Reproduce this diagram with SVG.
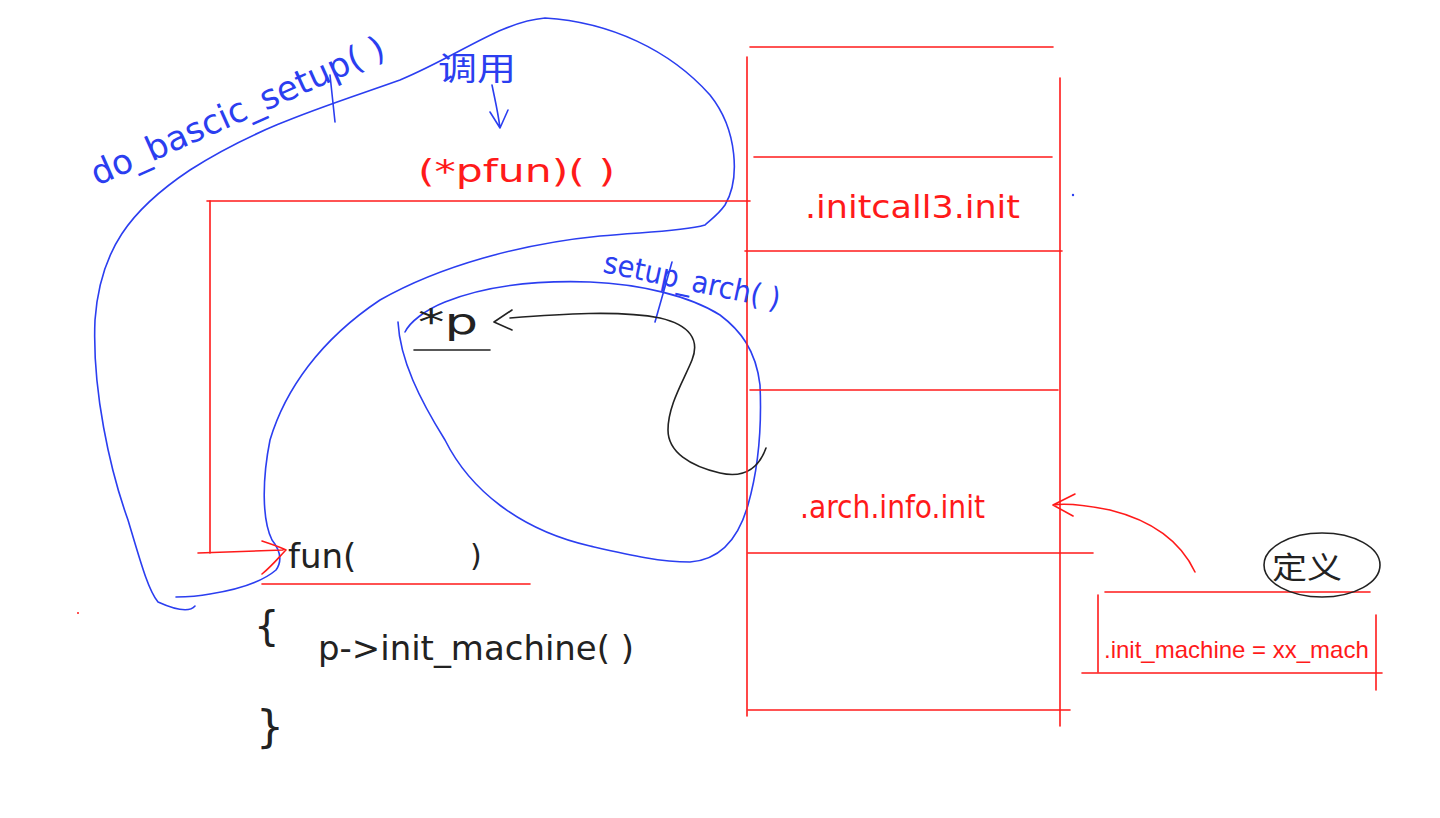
<svg xmlns="http://www.w3.org/2000/svg" width="1440" height="818" viewBox="0 0 1440 818">
<style>
.r{stroke:#ff1a1a;stroke-width:1.6;fill:none;stroke-linecap:round;stroke-linejoin:round}
.b{stroke:#2b3ef0;stroke-width:1.6;fill:none;stroke-linecap:round;stroke-linejoin:round}
.k{stroke:#222;stroke-width:1.6;fill:none;stroke-linecap:round;stroke-linejoin:round}
text{font-family:"DejaVu Sans","Noto Sans CJK SC",sans-serif;}
.tr{fill:#ff1a1a}
.tb{fill:#2b3ef0}
.tk{fill:#222}
</style>
<rect width="1440" height="818" fill="#fff"/>
<g id="connectors">
  <path class="b" d="M195,606 C190,612 178,611 158,602 C148,590 140,560 128,520 C110,470 92,390 95,320 C100,250 130,210 190,170 C260,125 330,105 400,80 C460,55 500,22 545,18 C610,22 670,50 710,95 C738,130 740,180 725,205 C718,215 710,220 705,225 C680,232 640,232 600,236 C520,244 440,266 380,300 C320,340 285,390 270,440 C262,480 262,520 272,540 C280,550 283,560 276,570 C262,582 235,590 210,594 C195,597 183,597 176,597"/>
  <path class="b" d="M398,322 C400,360 420,400 445,440 C470,490 520,530 590,546 C630,555 660,562 690,562 C720,560 738,540 748,505 C758,470 762,430 760,385 C756,350 740,330 720,315 C690,296 640,284 590,282 C530,280 480,288 445,302 C425,310 410,322 405,332"/>
  <path class="b" d="M655,322 L672,262"/>
  <path class="b" d="M492,85 C495,100 498,112 500,128 M490,112 L500,128 L508,110"/>
  <path class="k" d="M510,318 C560,314 620,310 660,318 C690,325 700,340 692,360 C684,380 668,405 668,430 C668,452 690,466 720,473 C742,478 758,470 766,448"/>
  <path class="k" d="M512,310 L494,322 L512,330"/>
  <path class="r" d="M1195,572 C1180,540 1150,520 1110,510 C1085,505 1065,503 1053,505 M1075,494 L1053,505 L1073,516"/>
  <path class="r" d="M198,553 L283,550 M262,541 C274,545 282,548 286,550 C280,556 272,566 262,574"/>
</g>
<g id="memory-table">
  <path class="r" d="M747,57 L747,716"/>
  <path class="r" d="M1060,78 L1060,726"/>
  <path class="r" d="M750,47 L1053,47"/>
  <path class="r" d="M754,157 L1052,157"/>
  <path class="r" d="M745,251 L1062,251"/>
  <path class="r" d="M750,390 L1058,390"/>
  <path class="r" d="M748,553 L1093,553"/>
  <path class="r" d="M748,710 L1070,710"/>
  <text class="tr" x="805" y="218" font-size="32" textLength="215" lengthAdjust="spacingAndGlyphs">.initcall3.init</text>
  <text class="tr" x="800" y="518" font-size="32" textLength="185" lengthAdjust="spacingAndGlyphs">.arch.info.init</text>
</g>
<g id="pfun-frame">
  <path class="r" d="M207,201 L750,201"/>
  <path class="r" d="M210,201 L210,553"/>
  <path class="r" d="M262,584 L530,584"/>
  <text class="tr" x="418" y="182" font-size="32" textLength="197" lengthAdjust="spacingAndGlyphs">(*pfun)(  )</text>
</g>
<g id="do-basic-setup">
  <text class="tb" transform="translate(97,186) rotate(-24)" font-size="34" textLength="318" lengthAdjust="spacingAndGlyphs">do_bascic_setup( )</text>
  <path class="b" d="M330,75 L335,122"/>
  <text class="tb" x="438" y="80" font-size="32" textLength="78" lengthAdjust="spacingAndGlyphs">调用</text>
</g>
<g id="setup-arch">
  <text class="tb" transform="translate(602,272) rotate(12)" font-size="30" textLength="180" lengthAdjust="spacingAndGlyphs">setup_arch( )</text>
</g>
<g id="p-pointer">
  <text class="tk" x="418" y="334" font-size="36" textLength="60" lengthAdjust="spacingAndGlyphs">*p</text>
  <path class="k" d="M414,350 L490,350"/>
</g>
<g id="fun">
  <text class="tk" x="288" y="568" font-size="34">fun(</text>
  <text class="tk" x="470" y="566" font-size="30">)</text>
  <text class="tk" x="254" y="640" font-size="40">{</text>
  <text class="tk" x="318" y="660" font-size="34" textLength="316" lengthAdjust="spacingAndGlyphs">p-&gt;init_machine( )</text>
  <text class="tk" x="256" y="742" font-size="44">}</text>
</g>
<g id="machine-desc">
  <path class="r" d="M1105,592 L1370,592"/>
  <path class="r" d="M1098,595 L1098,672"/>
  <path class="r" d="M1082,673 L1382,673"/>
  <path class="r" d="M1376,615 L1376,690"/>
  <text class="tr" x="1104" y="658" font-size="24" style="font-family:'Liberation Sans',sans-serif">.init_machine = xx_mach</text>
</g>
<g id="define-note">
  <ellipse class="k" cx="1322" cy="565" rx="58" ry="32"/>
  <text class="tk" x="1272" y="578" font-size="30" textLength="70" lengthAdjust="spacingAndGlyphs">定义</text>
</g>
<circle cx="1073" cy="195" r="1.2" fill="#2b3ef0"/>
<circle cx="78" cy="613" r="1" fill="#ff1a1a"/>
</svg>
